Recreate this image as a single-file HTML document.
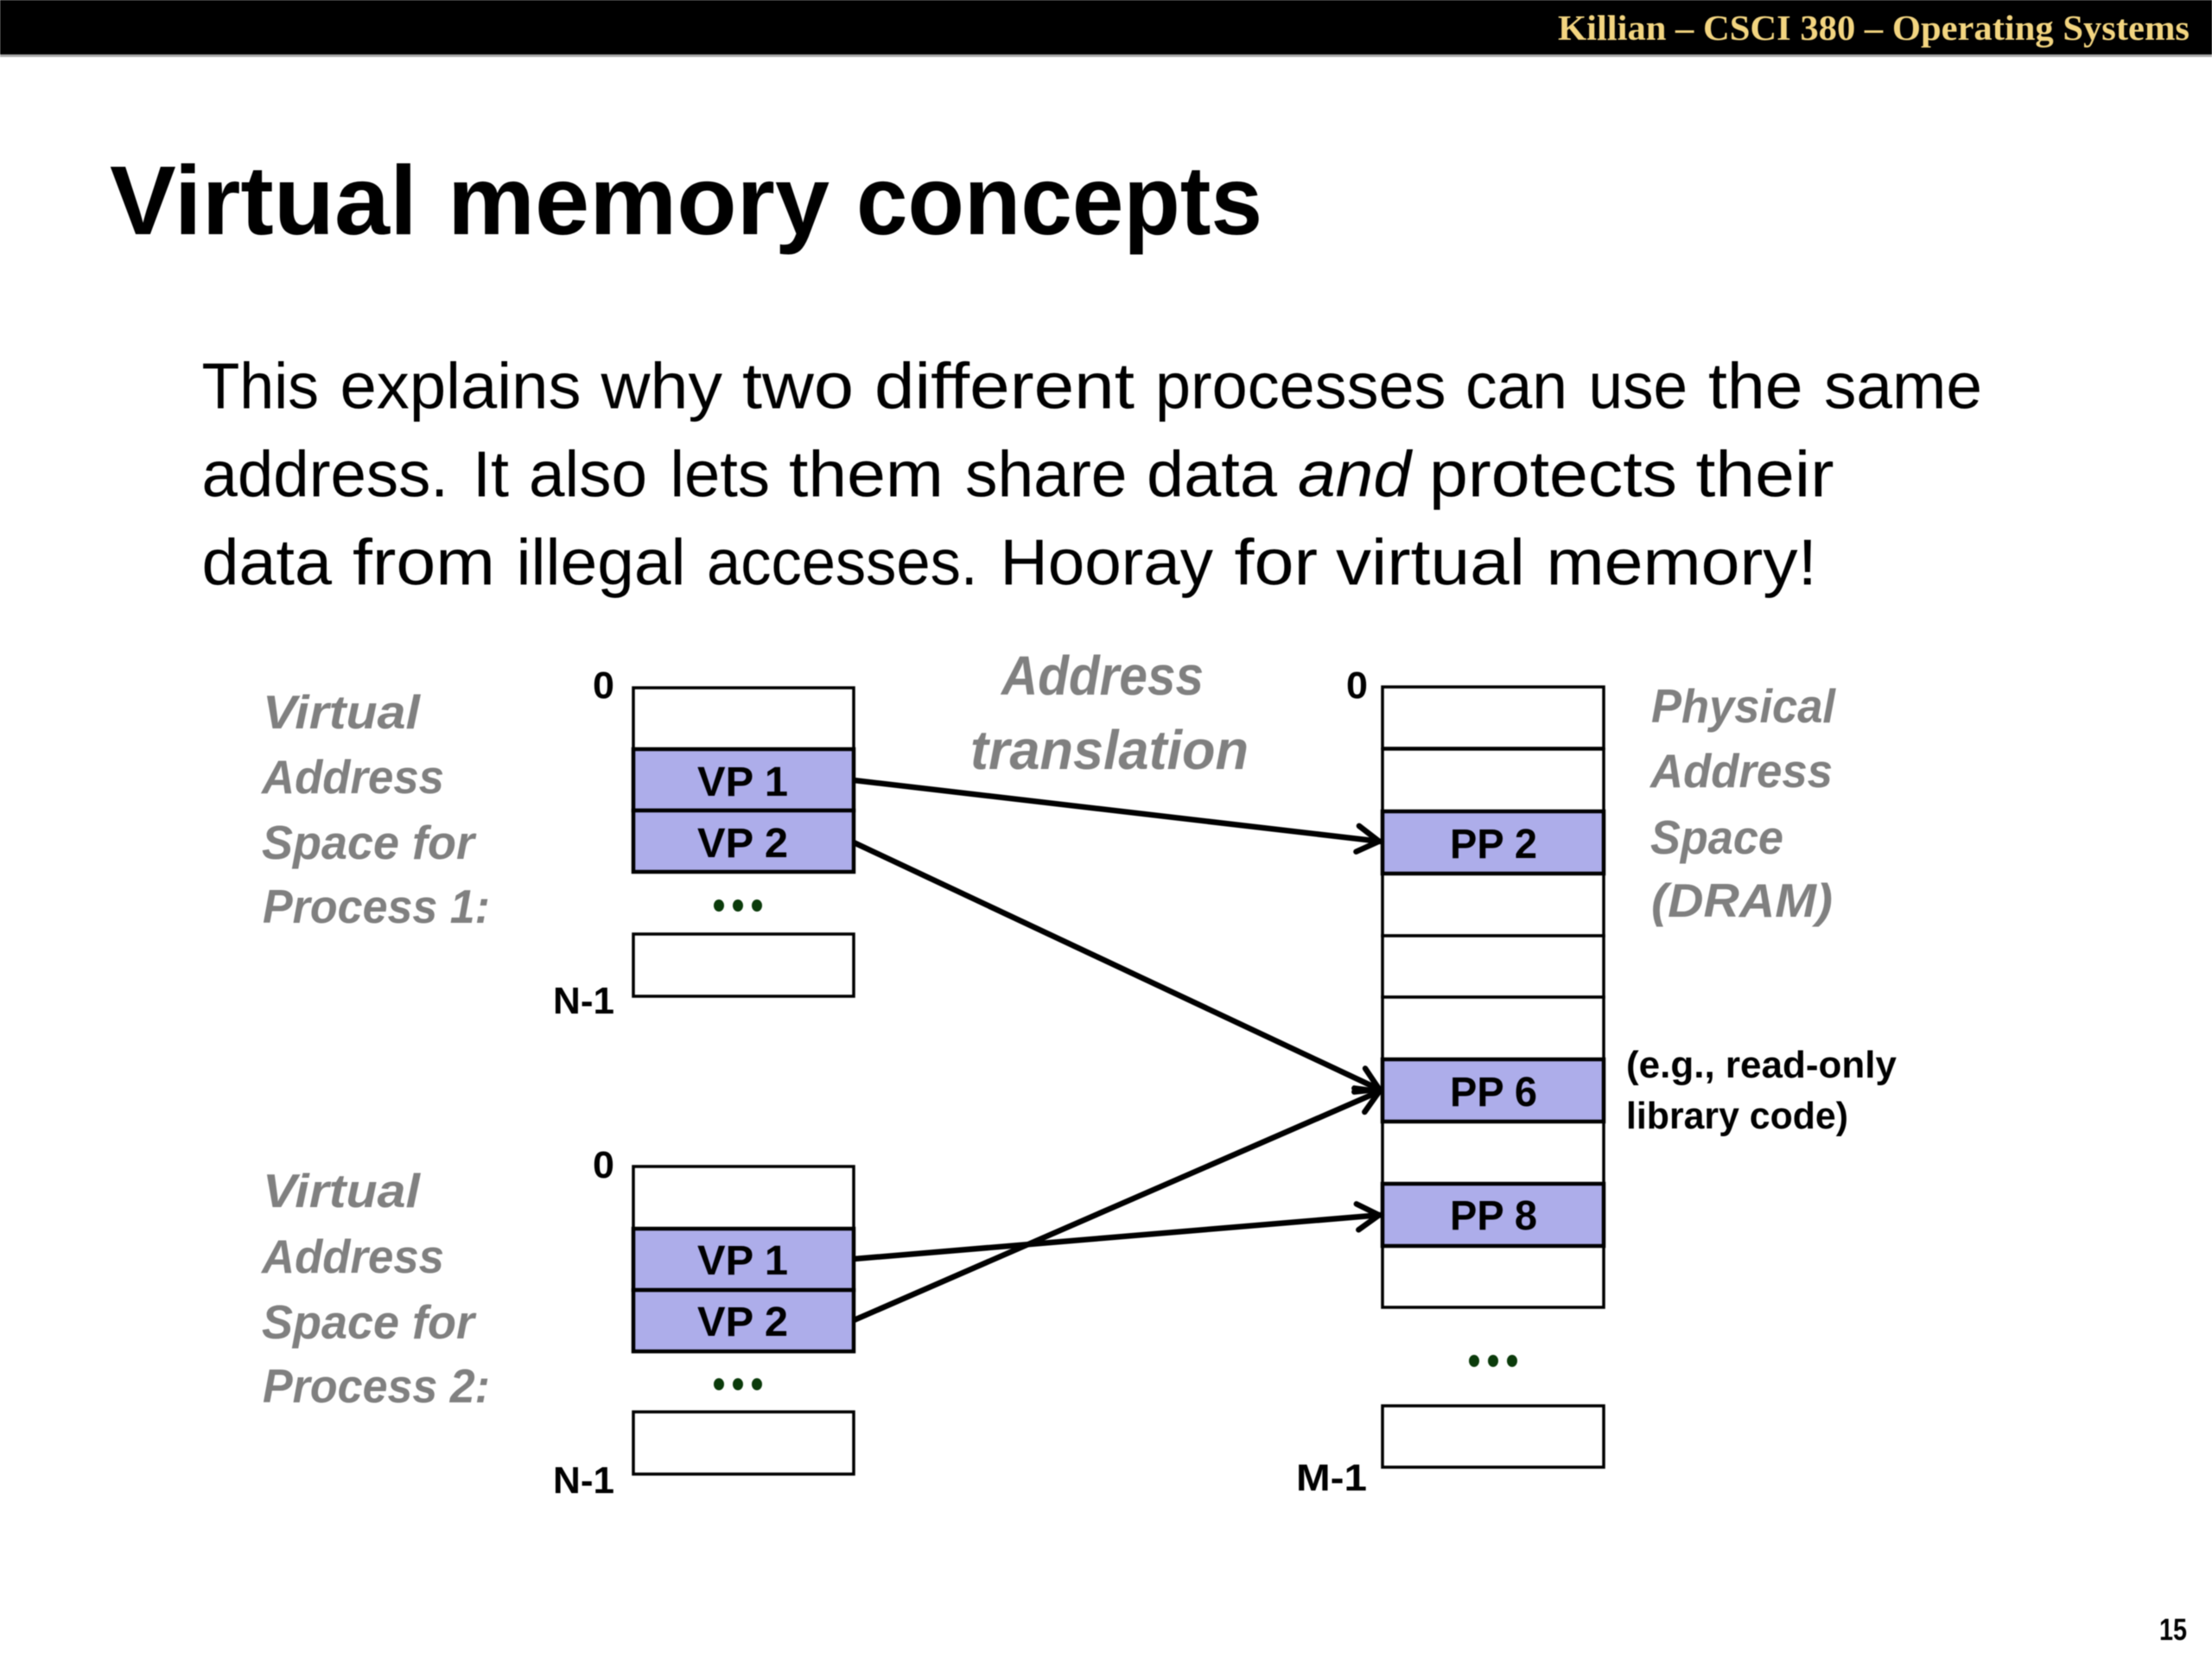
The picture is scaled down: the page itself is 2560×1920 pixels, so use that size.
<!DOCTYPE html>
<html><head><meta charset="utf-8"><style>
html,body{margin:0;padding:0;background:#fff}
svg{display:block;filter:blur(.6px)}
text{font-family:"Liberation Sans",sans-serif}
.g{font-weight:bold;font-style:italic;fill:#808080;font-size:55px}
.k{font-weight:bold;fill:#000;font-size:44px}
.c{font-weight:bold;fill:#000;font-size:48px}
.b{fill:#000;font-size:75px}
</style></head><body>
<svg xmlns="http://www.w3.org/2000/svg" width="2560" height="1920" viewBox="0 0 2560 1920">
<defs><marker id="a" markerUnits="userSpaceOnUse" markerWidth="50" markerHeight="50" refX="44" refY="25" orient="auto" overflow="visible"><path d="M16 10 L41 25 L16 40" fill="none" stroke="#000" stroke-width="6.5" stroke-linecap="round" stroke-linejoin="miter"/></marker></defs>
<rect width="2560" height="1920" fill="#fff"/>
<rect y="63" width="2560" height="3" fill="#aaa"/>
<rect width="2560" height="63" fill="#000"/>
<text x="1803" y="46" textLength="731" lengthAdjust="spacingAndGlyphs" style="font-family:'Liberation Serif',serif;font-weight:bold;font-size:41px" fill="#F3D580">Killian – CSCI 380 – Operating Systems</text>
<g font-weight="bold" font-size="113">
<text x="127" y="271" textLength="356" lengthAdjust="spacingAndGlyphs">Virtual</text>
<text x="518" y="271" textLength="442" lengthAdjust="spacingAndGlyphs">memory</text>
<text x="991" y="271" textLength="470" lengthAdjust="spacingAndGlyphs">concepts</text>
</g>
<g class="b">
<text class="b" x="233.5" y="472.5" textLength="135.5" lengthAdjust="spacingAndGlyphs">This</text>
<text class="b" x="393.5" y="472.5" textLength="279" lengthAdjust="spacingAndGlyphs">explains</text>
<text class="b" x="695.5" y="472.5" textLength="140.5" lengthAdjust="spacingAndGlyphs">why</text>
<text class="b" x="859" y="472.5" textLength="129" lengthAdjust="spacingAndGlyphs">two</text>
<text class="b" x="1012" y="472.5" textLength="301" lengthAdjust="spacingAndGlyphs">different</text>
<text class="b" x="1337" y="472.5" textLength="336.5" lengthAdjust="spacingAndGlyphs">processes</text>
<text class="b" x="1696" y="472.5" textLength="118" lengthAdjust="spacingAndGlyphs">can</text>
<text class="b" x="1838.5" y="472.5" textLength="114.5" lengthAdjust="spacingAndGlyphs">use</text>
<text class="b" x="1977" y="472.5" textLength="109.5" lengthAdjust="spacingAndGlyphs">the</text>
<text class="b" x="2111" y="472.5" textLength="183" lengthAdjust="spacingAndGlyphs">same</text>

<text class="b" x="233.5" y="574.5" textLength="285.5" lengthAdjust="spacingAndGlyphs">address.</text>
<text class="b" x="547" y="574.5" textLength="42" lengthAdjust="spacingAndGlyphs">It</text>
<text class="b" x="612" y="574.5" textLength="137" lengthAdjust="spacingAndGlyphs">also</text>
<text class="b" x="775.5" y="574.5" textLength="115.5" lengthAdjust="spacingAndGlyphs">lets</text>
<text class="b" x="913" y="574.5" textLength="179" lengthAdjust="spacingAndGlyphs">them</text>
<text class="b" x="1117" y="574.5" textLength="187.5" lengthAdjust="spacingAndGlyphs">share</text>
<text class="b" x="1327" y="574.5" textLength="151" lengthAdjust="spacingAndGlyphs">data</text>
<text class="b" x="1502" y="574.5" textLength="131" lengthAdjust="spacingAndGlyphs" font-style="italic">and</text>
<text class="b" x="1654" y="574.5" textLength="287" lengthAdjust="spacingAndGlyphs">protects</text>
<text class="b" x="1962.5" y="574.5" textLength="160" lengthAdjust="spacingAndGlyphs">their</text>

<text class="b" x="233.5" y="676.5" textLength="150.5" lengthAdjust="spacingAndGlyphs">data</text>
<text class="b" x="408" y="676.5" textLength="165" lengthAdjust="spacingAndGlyphs">from</text>
<text class="b" x="597.5" y="676.5" textLength="196" lengthAdjust="spacingAndGlyphs">illegal</text>
<text class="b" x="818" y="676.5" textLength="313.5" lengthAdjust="spacingAndGlyphs">accesses.</text>
<text class="b" x="1157.5" y="676.5" textLength="246.5" lengthAdjust="spacingAndGlyphs">Hooray</text>
<text class="b" x="1428.5" y="676.5" textLength="96.5" lengthAdjust="spacingAndGlyphs">for</text>
<text class="b" x="1546" y="676.5" textLength="219" lengthAdjust="spacingAndGlyphs">virtual</text>
<text class="b" x="1789.5" y="676.5" textLength="313.5" lengthAdjust="spacingAndGlyphs">memory!</text>
</g>

<g fill="#fff" stroke="#000" stroke-width="3.5">
<rect x="733" y="796" width="255" height="71"/>
<rect x="733" y="867" width="255" height="71" fill="#ADADEA" stroke-width="4.5"/>
<rect x="733" y="938" width="255" height="71" fill="#ADADEA" stroke-width="4.5"/>
<rect x="733" y="1081" width="255" height="72"/>
<rect x="733" y="1350" width="255" height="72"/>
<rect x="733" y="1422" width="255" height="71" fill="#ADADEA" stroke-width="4.5"/>
<rect x="733" y="1493" width="255" height="71" fill="#ADADEA" stroke-width="4.5"/>
<rect x="733" y="1634" width="255" height="72"/>
<rect x="1600" y="795" width="256" height="71"/>
<rect x="1600" y="867" width="256" height="72"/>
<rect x="1600" y="1011" width="256" height="72"/>
<rect x="1600" y="1083" width="256" height="71"/>
<rect x="1600" y="1154" width="256" height="72"/>
<rect x="1600" y="1298" width="256" height="72"/>
<rect x="1600" y="1442" width="256" height="71"/>
<rect x="1600" y="939" width="256" height="72" fill="#ADADEA" stroke-width="4.5"/>
<rect x="1600" y="1226" width="256" height="72" fill="#ADADEA" stroke-width="4.5"/>
<rect x="1600" y="1370" width="256" height="72" fill="#ADADEA" stroke-width="4.5"/>
<rect x="1600" y="1627" width="256" height="71"/>
</g>

<g stroke="#000" stroke-width="6.5" fill="none">
<line x1="988" y1="903" x2="1599" y2="974" marker-end="url(#a)"/>
<line x1="988" y1="975" x2="1599" y2="1262" marker-end="url(#a)"/>
<line x1="988" y1="1457" x2="1599" y2="1406" marker-end="url(#a)"/>
<line x1="988" y1="1528" x2="1599" y2="1262" marker-end="url(#a)"/>
</g>

<g fill="#0B3B0B">
<ellipse cx="832" cy="1048" rx="6" ry="7"/><ellipse cx="854" cy="1048" rx="6" ry="7"/><ellipse cx="876" cy="1048" rx="6" ry="7"/>
<ellipse cx="832" cy="1602" rx="6" ry="7"/><ellipse cx="854" cy="1602" rx="6" ry="7"/><ellipse cx="876" cy="1602" rx="6" ry="7"/>
<ellipse cx="1706" cy="1575" rx="6" ry="7"/><ellipse cx="1728" cy="1575" rx="6" ry="7"/><ellipse cx="1750" cy="1575" rx="6" ry="7"/>
</g>

<text class="g" x="304" y="843" textLength="182" lengthAdjust="spacingAndGlyphs">Virtual</text>
<text class="g" x="303" y="918" textLength="211" lengthAdjust="spacingAndGlyphs">Address</text>
<text class="g" x="303" y="994" textLength="246" lengthAdjust="spacingAndGlyphs">Space for</text>
<text class="g" x="304" y="1068" textLength="263" lengthAdjust="spacingAndGlyphs">Process 1:</text>
<text class="g" x="304" y="1397" textLength="182" lengthAdjust="spacingAndGlyphs">Virtual</text>
<text class="g" x="303" y="1473" textLength="211" lengthAdjust="spacingAndGlyphs">Address</text>
<text class="g" x="303" y="1549" textLength="246" lengthAdjust="spacingAndGlyphs">Space for</text>
<text class="g" x="304" y="1623" textLength="263" lengthAdjust="spacingAndGlyphs">Process 2:</text>
<text class="g" x="1911" y="836" textLength="213" lengthAdjust="spacingAndGlyphs">Physical</text>
<text class="g" x="1910" y="911" textLength="211" lengthAdjust="spacingAndGlyphs">Address</text>
<text class="g" x="1910" y="988" textLength="154" lengthAdjust="spacingAndGlyphs">Space</text>
<text class="g" x="1911" y="1061" textLength="210" lengthAdjust="spacingAndGlyphs">(DRAM)</text>
<text class="g" x="1159" y="804" textLength="234" lengthAdjust="spacingAndGlyphs" style="font-size:64px">Address</text>
<text class="g" x="1123" y="890" textLength="322" lengthAdjust="spacingAndGlyphs" style="font-size:64px">translation</text>

<text class="k" x="686" y="808" textLength="25" lengthAdjust="spacingAndGlyphs">0</text>
<text class="k" x="686" y="1363" textLength="25" lengthAdjust="spacingAndGlyphs">0</text>
<text class="k" x="1558" y="808" textLength="25" lengthAdjust="spacingAndGlyphs">0</text>
<text class="k" x="640" y="1173" textLength="71" lengthAdjust="spacingAndGlyphs">N-1</text>
<text class="k" x="640" y="1728" textLength="71" lengthAdjust="spacingAndGlyphs">N-1</text>
<text class="k" x="1500" y="1725" textLength="82" lengthAdjust="spacingAndGlyphs">M-1</text>

<text class="c" x="807" y="921" textLength="105" lengthAdjust="spacingAndGlyphs">VP 1</text>
<text class="c" x="807" y="992" textLength="105" lengthAdjust="spacingAndGlyphs">VP 2</text>
<text class="c" x="807" y="1475" textLength="105" lengthAdjust="spacingAndGlyphs">VP 1</text>
<text class="c" x="807" y="1546" textLength="105" lengthAdjust="spacingAndGlyphs">VP 2</text>
<text class="c" x="1678" y="993" textLength="101" lengthAdjust="spacingAndGlyphs">PP 2</text>
<text class="c" x="1678" y="1280" textLength="101" lengthAdjust="spacingAndGlyphs">PP 6</text>
<text class="c" x="1678" y="1423" textLength="101" lengthAdjust="spacingAndGlyphs">PP 8</text>

<text x="1882" y="1247" textLength="313" lengthAdjust="spacingAndGlyphs" font-weight="bold" font-size="44">(e.g., read-only</text>
<text x="1882" y="1306" textLength="257" lengthAdjust="spacingAndGlyphs" font-weight="bold" font-size="44">library code)</text>
<text x="2499" y="1898" textLength="32" lengthAdjust="spacingAndGlyphs" font-weight="bold" font-size="35">15</text>
</svg>
</body></html>
